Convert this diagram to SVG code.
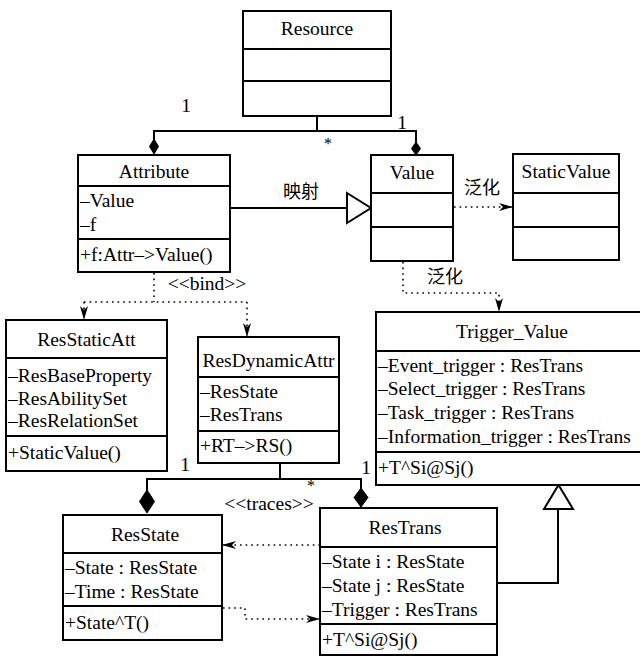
<svg xmlns="http://www.w3.org/2000/svg" width="640" height="657" viewBox="0 0 640 657" font-family="Liberation Serif, Times New Roman, serif" font-size="19.5">
<defs>
<style>
.t{text-anchor:middle}
.zh{font-family:'Noto Sans CJK SC',sans-serif;font-size:18px;text-anchor:middle}
.box{fill:#fff;stroke:#000;stroke-width:2}
.div{stroke:#000;stroke-width:2}
.ln{fill:none;stroke:#000;stroke-width:2}
.dot{fill:none;stroke:#000;stroke-width:1.6;stroke-dasharray:1.6 4}
.dia{fill:#000;stroke:#000;stroke-width:1}
.tri{fill:#fff;stroke:#000;stroke-width:2}
</style>
<marker id="ah" viewBox="0 0 14 10" refX="14" refY="5" markerWidth="14" markerHeight="10" markerUnits="userSpaceOnUse" orient="auto">
<path d="M0,1 L14,5 L0,9 L4,5 z" fill="#000"/>
</marker>
</defs>
<rect width="640" height="657" fill="#fff"/>

<g id="connectors">
<path class="ln" d="M317,116 V131"/>
<path class="ln" d="M154,140 V131 H416 V143"/>
<polygon class="dia" points="154,139 158.5,146.5 154,154 149.5,146.5"/>
<polygon class="dia" points="416,142 420.5,148.5 416,155 411.5,148.5"/>
<path class="ln" d="M230,208 H347"/>
<polygon class="tri" points="347,193 371,208 347,223"/>
<path class="dot" d="M454,207 H513" marker-end="url(#ah)"/>
<path class="dot" d="M403,262 V293 H499 V312" marker-end="url(#ah)"/>
<path class="dot" d="M154,273 V302"/>
<path class="dot" d="M84,302 H247"/>
<path class="dot" d="M84,302 V320" marker-end="url(#ah)"/>
<path class="dot" d="M247,302 V337" marker-end="url(#ah)"/>
<path class="ln" d="M280,463 V479"/>
<path class="ln" d="M147,491 V479 H361 V489"/>
<polygon class="dia" points="147,490 154.5,501.5 147,513 139.5,501.5"/>
<polygon class="dia" points="361,488 368,497.5 361,507 354,497.5"/>
<path class="dot" d="M320,545 H222" marker-end="url(#ah)"/>
<path class="dot" d="M223,608 H245 V619 H320" marker-end="url(#ah)"/>
<path class="ln" d="M497,583 H558 V509"/>
<polygon class="tri" points="544,509 558.5,485 573,509"/>
<text class="t" x="186" y="112">1</text>
<text class="t" x="402" y="129">1</text>
<text class="t" x="328" y="149" font-size="16">*</text>
<text class="zh" x="301" y="198">映射</text>
<text class="zh" x="482" y="194">泛化</text>
<text class="zh" x="445" y="283">泛化</text>
<text class="t" x="207" y="290">&lt;&lt;bind&gt;&gt;</text>
<text class="t" x="185" y="471">1</text>
<text class="t" x="366" y="474">1</text>
<text class="t" x="311" y="491" font-size="16">*</text>
<text class="t" x="269" y="510">&lt;&lt;traces&gt;&gt;</text>
</g>

<g id="Resource">
<rect class="box" x="243" y="11" width="148" height="105"/>
<line class="div" x1="243" y1="49" x2="391" y2="49"/>
<line class="div" x1="243" y1="81" x2="391" y2="81"/>
<text class="t" x="317" y="35">Resource</text>
</g>

<g id="Attribute">
<rect class="box" x="78" y="155" width="152" height="117"/>
<line class="div" x1="78" y1="186" x2="230" y2="186"/>
<line class="div" x1="78" y1="239" x2="230" y2="239"/>
<text class="t" x="154" y="178">Attribute</text>
<text x="80" y="207">–Value</text>
<text x="80" y="231">–f</text>
<text x="80" y="261">+f:Attr–&gt;Value()</text>
</g>

<g id="Value">
<rect class="box" x="371" y="155" width="82" height="106"/>
<line class="div" x1="371" y1="193" x2="453" y2="193"/>
<line class="div" x1="371" y1="227" x2="453" y2="227"/>
<text class="t" x="412" y="179">Value</text>
</g>

<g id="StaticValue">
<rect class="box" x="513" y="154" width="106" height="106"/>
<line class="div" x1="513" y1="193" x2="619" y2="193"/>
<line class="div" x1="513" y1="227" x2="619" y2="227"/>
<text class="t" x="566" y="178">StaticValue</text>
</g>

<g id="ResStaticAtt">
<rect class="box" x="6" y="320" width="161" height="151"/>
<line class="div" x1="6" y1="358" x2="167" y2="358"/>
<line class="div" x1="6" y1="436" x2="167" y2="436"/>
<text class="t" x="86.5" y="346">ResStaticAtt</text>
<text x="8" y="382">–ResBaseProperty</text>
<text x="8" y="405">–ResAbilitySet</text>
<text x="8" y="427">–ResRelationSet</text>
<text x="8" y="459">+StaticValue()</text>
</g>

<g id="ResDynamicAttr">
<rect class="box" x="198" y="337" width="141" height="126"/>
<line class="div" x1="198" y1="377" x2="339" y2="377"/>
<line class="div" x1="198" y1="431" x2="339" y2="431"/>
<text class="t" x="268.5" y="367">ResDynamicAttr</text>
<text x="200" y="398">–ResState</text>
<text x="200" y="421">–ResTrans</text>
<text x="200" y="452">+RT–&gt;RS()</text>
</g>

<g id="Trigger_Value">
<rect class="box" x="376" y="312" width="270" height="173"/>
<line class="div" x1="376" y1="351" x2="640" y2="351"/>
<line class="div" x1="376" y1="452" x2="640" y2="452"/>
<text class="t" x="512" y="338">Trigger_Value</text>
<text x="378" y="372">–Event_trigger : ResTrans</text>
<text x="378" y="395">–Select_trigger : ResTrans</text>
<text x="378" y="419">–Task_trigger : ResTrans</text>
<text x="378" y="443">–Information_trigger : ResTrans</text>
<text x="378" y="474">+T^Si@Sj()</text>
</g>

<g id="ResState">
<rect class="box" x="63" y="515" width="159" height="125"/>
<line class="div" x1="63" y1="553" x2="222" y2="553"/>
<line class="div" x1="63" y1="606" x2="222" y2="606"/>
<text class="t" x="145" y="541">ResState</text>
<text x="65" y="574">–State : ResState</text>
<text x="65" y="598">–Time : ResState</text>
<text x="65" y="629">+State^T()</text>
</g>

<g id="ResTrans">
<rect class="box" x="320" y="508" width="177" height="147"/>
<line class="div" x1="320" y1="547" x2="497" y2="547"/>
<line class="div" x1="320" y1="624" x2="497" y2="624"/>
<text class="t" x="405" y="534">ResTrans</text>
<text x="322" y="568">–State i : ResState</text>
<text x="322" y="592">–State j : ResState</text>
<text x="322" y="616">–Trigger : ResTrans</text>
<text x="322" y="646">+T^Si@Sj()</text>
</g>
</svg>
